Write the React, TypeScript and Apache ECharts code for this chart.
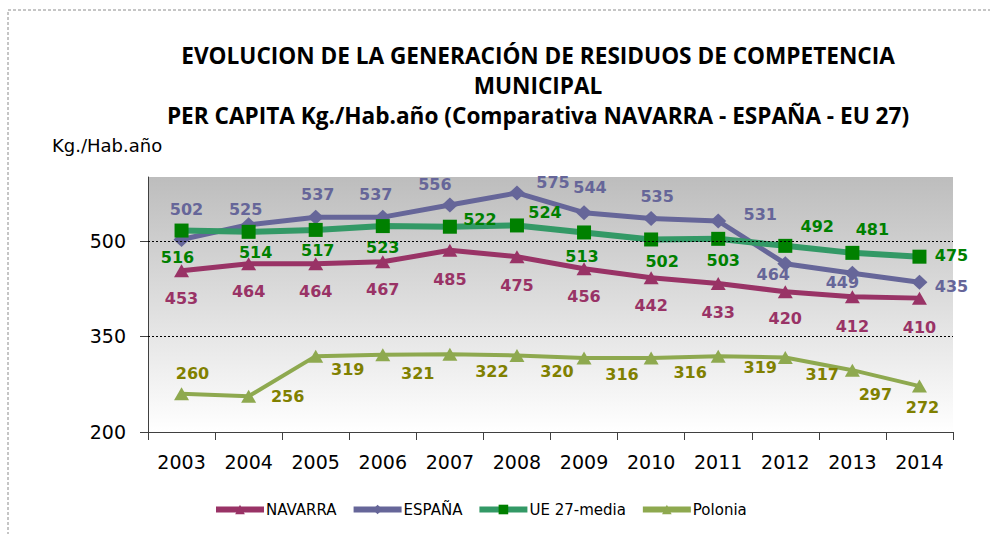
import React, { useEffect, useRef } from "react";
import * as echarts from "echarts";

const years = ["2003", "2004", "2005", "2006", "2007", "2008", "2009", "2010", "2011", "2012", "2013", "2014"];
const navarra = [453, 464, 464, 467, 485, 475, 456, 442, 433, 420, 412, 410];
const espana = [502, 525, 537, 537, 556, 575, 544, 535, 531, 464, 449, 435];
const ue27 = [516, 514, 517, 523, 522, 524, 513, 502, 503, 492, 481, 475];
const polonia = [260, 256, 319, 321, 322, 320, 316, 316, 319, 317, 297, 272];
const yTicks = [200, 350, 500];
const refLines = [350, 500];

// label offsets (style only)
const navOff = [[0, 28], [0, 28], [0, 28], [0, 28], [0, 29], [0, 29], [0, 28], [0, 28], [0, 29], [0, 27], [0, 30], [0, 29]];
const espOff = [[5, -30], [-3, -15], [2, -23], [-7, -23], [-15, -21], [36, -10], [6, -25], [6, -22], [42, -6], [-12, 11], [-10, 9], [32, 4]];
const ueOff = [[-4, 27], [7, 21], [2, 21], [0, 21], [30, -7], [28, -13], [-2, 24], [11, 22], [5, 22], [32, -19], [20, -23], [32, -1]];
const polOff = [[11, -20], [39, 0], [32, 13], [35, 19], [42, 17], [40, 16], [38, 16], [39, 14], [42, 11], [37, 17], [23, 24], [3, 21]];

const withLabels = (vals: number[], offs: number[][]) =>
  vals.map((v, i) => ({ value: v, label: { offset: offs[i] } }));

export default function App() {
  const ref = useRef<HTMLDivElement>(null);
  useEffect(() => {
    if (!ref.current) return;
    const chart = echarts.init(ref.current, undefined, { renderer: "svg" });
    const labelBase = (color: string) => ({
      show: true,
      position: "inside",
      color,
      fontFamily: "DejaVu Sans",
      fontWeight: "bold",
      fontSize: 16,
    });
    chart.setOption({
      animation: false,
      backgroundColor: "#ffffff",
      graphic: [
        {
          type: "rect",
          shape: { x: 8, y: 10, width: 1000, height: 600 },
          style: { fill: "none", stroke: "#8c8c8c", lineWidth: 1, lineDash: [3, 2] },
          silent: true,
        },
        {
          type: "text",
          x: 538,
          y: 40,
          style: {
            text:
              "EVOLUCION DE LA GENERACIÓN DE RESIDUOS DE COMPETENCIA\nMUNICIPAL\nPER CAPITA Kg./Hab.año (Comparativa NAVARRA - ESPAÑA - EU 27)",
            textAlign: "center",
            fontFamily: "Open Sans",
            fontWeight: "bold",
            fontSize: 22.6,
            lineHeight: 30,
            fill: "#000000",
          },
        },
        {
          type: "text",
          x: 52,
          y: 136,
          style: {
            text: "Kg./Hab.año",
            fontFamily: "DejaVu Sans",
            fontSize: 18,
            fill: "#000000",
          },
        },
      ],
      grid: {
        left: 148,
        right: 37,
        top: 177,
        bottom: 102,
        show: true,
        borderWidth: 0,
        backgroundColor: new echarts.graphic.LinearGradient(0, 0, 0, 1, [
          { offset: 0, color: "#bdbdbd" },
          { offset: 1, color: "#ffffff" },
        ]),
      },
      legend: {
        left: 208,
        top: 497,
        itemWidth: 48,
        itemHeight: 12,
        itemGap: 14,
        lineStyle: { width: 6 },
        textStyle: { fontFamily: "DejaVu Sans", fontSize: 15, color: "#000000", padding: [0, 0, 0, -3] },
        data: ["NAVARRA", "ESPAÑA", "UE 27-media", "Polonia"],
      },
      xAxis: {
        type: "category",
        data: years,
        boundaryGap: true,
        axisLine: { lineStyle: { color: "#404040", width: 1 } },
        axisTick: { show: true, length: 8, lineStyle: { color: "#404040" } },
        axisLabel: { fontFamily: "DejaVu Sans", fontSize: 19, color: "#000000", margin: 20 },
        splitLine: { show: false },
      },
      yAxis: {
        type: "value",
        min: 200,
        max: 600,
        axisLine: { show: true, lineStyle: { color: "#404040", width: 1 } },
        axisTick: { show: true, length: 8, customValues: yTicks, lineStyle: { color: "#404040" } },
        axisLabel: {
          customValues: yTicks,
          fontFamily: "DejaVu Sans",
          fontSize: 19,
          color: "#000000",
          margin: 22,
        },
        splitLine: { show: false },
      },
      series: [
        {
          name: "NAVARRA",
          type: "line",
          data: withLabels(navarra, navOff),
          symbol: "triangle",
          symbolSize: [15, 13],
          lineStyle: { color: "#993366", width: 5 },
          itemStyle: { color: "#993366" },
          label: labelBase("#993366"),
          markLine: {
            silent: true,
            symbol: "none",
            label: { show: false },
            lineStyle: { color: "#000000", type: [2, 2], width: 1 },
            data: refLines.map((v) => ({ yAxis: v })),
          },
          z: 2,
        },
        {
          name: "ESPAÑA",
          type: "line",
          data: withLabels(espana, espOff),
          symbol: "diamond",
          symbolSize: [16, 15],
          lineStyle: { color: "#666699", width: 5 },
          itemStyle: { color: "#666699" },
          label: labelBase("#666699"),
          z: 3,
        },
        {
          name: "UE 27-media",
          type: "line",
          data: withLabels(ue27, ueOff),
          symbol: "rect",
          symbolSize: 14,
          lineStyle: { color: "#339966", width: 6 },
          itemStyle: { color: "#008000" },
          label: labelBase("#008000"),
          z: 4,
        },
        {
          name: "Polonia",
          type: "line",
          data: withLabels(polonia, polOff),
          symbol: "triangle",
          symbolSize: [15, 13],
          lineStyle: { color: "#8ea94f", width: 4 },
          itemStyle: { color: "#8ea94f" },
          label: labelBase("#808000"),
          z: 5,
        },
      ],
    });
    return () => chart.dispose();
  }, []);
  return <div ref={ref} style={{ width: 990, height: 534, position: "absolute", left: 0, top: 0 }} />;
}
